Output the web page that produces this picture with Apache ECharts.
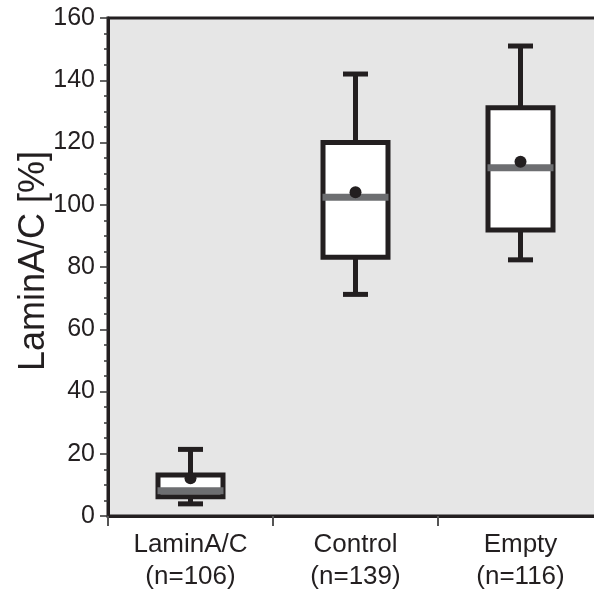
<!DOCTYPE html>
<html>
<head>
<meta charset="utf-8">
<script src="https://cdn.jsdelivr.net/npm/echarts@6/dist/echarts.min.js"></script>
<style>
  html, body { margin: 0; padding: 0; background: #fff; }
  #chart { width: 594px; height: 592px; }
</style>
</head>
<body>
<div id="chart"></div>
<script>
// groups and sample sizes
const groups = ['LaminA/C', 'Control', 'Empty']
const counts = [106, 139, 116]

// box statistics (%)
const whiskerLow = [3.9, 71.2, 82.3]
const q1 = [6.2, 83.1, 91.9]
const median = [8.1, 102.4, 111.9]
const q3 = [13.2, 120.0, 131.2]
const whiskerHigh = [21.4, 142.0, 151.0]
const mean = [12.1, 104.0, 113.8]

const yTicks = [0, 20, 40, 60, 80, 100, 120, 140, 160]

const ink = '#231f20'
const font = "'Liberation Sans', Arial, sans-serif"

const rows = groups.map((g, i) => [i, whiskerLow[i], q1[i], median[i], q3[i], whiskerHigh[i], mean[i]])

// draw one box with whiskers, median bar and mean dot
const renderBox = (params, api) => {
  const i = api.value(0)
  const pLow = api.coord([i, api.value(1)])
  const pQ1 = api.coord([i, api.value(2)])
  const pMed = api.coord([i, api.value(3)])
  const pQ3 = api.coord([i, api.value(4)])
  const pHigh = api.coord([i, api.value(5)])
  const pMean = api.coord([i, api.value(6)])
  const x = pMed[0]
  const boxW = 65
  const capW = 25
  const lineStyle = { stroke: ink, lineWidth: 5 }
  return {
    type: 'group',
    children: [
      { type: 'line', shape: { x1: x, y1: pLow[1], x2: x, y2: pQ1[1] }, style: lineStyle },
      { type: 'line', shape: { x1: x, y1: pQ3[1], x2: x, y2: pHigh[1] }, style: lineStyle },
      { type: 'line', shape: { x1: x - capW / 2, y1: pLow[1], x2: x + capW / 2, y2: pLow[1] }, style: lineStyle },
      { type: 'line', shape: { x1: x - capW / 2, y1: pHigh[1], x2: x + capW / 2, y2: pHigh[1] }, style: lineStyle },
      {
        type: 'rect',
        shape: { x: x - boxW / 2, y: pQ3[1], width: boxW, height: pQ1[1] - pQ3[1] },
        style: { fill: '#fff', stroke: ink, lineWidth: 5 }
      },
      {
        type: 'line',
        shape: { x1: x - 33, y1: pMed[1], x2: x + 33, y2: pMed[1] },
        style: { stroke: '#6d6e71', lineWidth: 7 }
      },
      {
        type: 'circle',
        shape: { cx: x, cy: pMean[1], r: 6 },
        style: { fill: ink }
      }
    ]
  }
}

const chart = echarts.init(document.getElementById('chart'))

const option = {
  animation: false,
  grid: {
    left: 108,
    top: 18,
    width: 495,
    height: 498,
    outerBoundsMode: 'none',
    show: true,
    backgroundColor: '#e6e6e6',
    borderColor: ink,
    borderWidth: 3
  },
  xAxis: {
    type: 'category',
    data: groups.map((g, i) => g + '\n(n=' + counts[i] + ')'),
    axisLine: { lineStyle: { color: ink, width: 3 } },
    axisTick: { show: true, length: 10, lineStyle: { color: '#555', width: 2 } },
    axisLabel: {
      color: ink,
      fontFamily: font,
      fontSize: 26,
      lineHeight: 32,
      margin: 13
    },
    splitLine: { show: false }
  },
  yAxis: {
    type: 'value',
    min: yTicks[0],
    max: yTicks[yTicks.length - 1],
    interval: 20,
    name: 'LaminA/C [%]',
    nameLocation: 'middle',
    nameRotate: 90,
    nameGap: 56,
    nameMoveOverlap: false,
    nameTextStyle: { color: ink, fontFamily: font, fontSize: 36, padding: [0, 0, 0, 12] },
    axisLine: { show: true, lineStyle: { color: ink, width: 3 } },
    axisTick: { show: true, length: 8, lineStyle: { color: '#333', width: 1.5 } },
    minorTick: { show: true, splitNumber: 4, length: 4, lineStyle: { color: '#333', width: 1.5 } },
    axisLabel: { color: ink, fontFamily: font, fontSize: 25, margin: 13 },
    splitLine: { show: false }
  },
  series: [
    {
      type: 'custom',
      renderItem: renderBox,
      encode: { x: 0, y: [1, 2, 3, 4, 5, 6] },
      data: rows
    }
  ]
}

chart.setOption(option)
</script>
</body>
</html>
